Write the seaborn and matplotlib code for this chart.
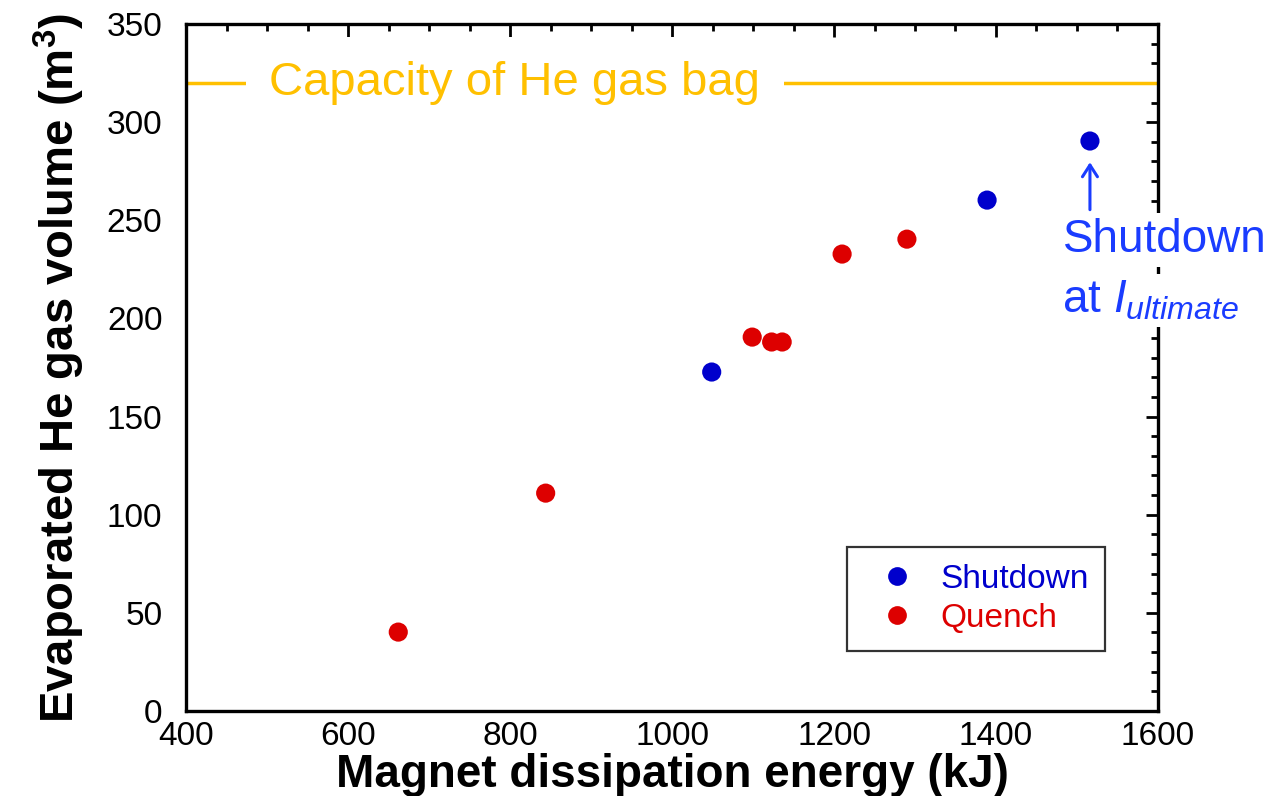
import matplotlib
matplotlib.use("Agg")
import matplotlib.pyplot as plt
from matplotlib.ticker import MultipleLocator
from matplotlib.lines import Line2D
import seaborn as sns
import pandas as pd

# Measured data: magnet dissipation energy (kJ) vs evaporated He gas volume (m^3)
shutdown_energy = [1049, 1389, 1516]
shutdown_volume = [172.7, 260.3, 290.4]
quench_energy = [662, 844, 1099, 1123, 1136, 1210, 1290]
quench_volume = [40.2, 111.0, 190.5, 188.0, 188.0, 232.8, 240.4]
bag_capacity = 320

series_names = ["Shutdown", "Quench"]
series_colors = {"Shutdown": "#0000cc", "Quench": "#dd0000"}
gold = "#ffc000"
note_blue = "#1a3cff"

df = pd.DataFrame({
    "energy": shutdown_energy + quench_energy,
    "volume": shutdown_volume + quench_volume,
    "kind": ["Shutdown"] * len(shutdown_energy) + ["Quench"] * len(quench_energy),
})

sns.set_theme(style="white")
plt.rcParams["font.family"] = ["Liberation Sans", "DejaVu Sans"]
plt.rcParams["mathtext.fontset"] = "custom"
plt.rcParams["mathtext.rm"] = "Liberation Sans"
plt.rcParams["mathtext.it"] = "Liberation Sans:italic"
plt.rcParams["mathtext.bf"] = "Liberation Sans:bold"
plt.rcParams["text.color"] = "black"
plt.rcParams["axes.labelcolor"] = "black"

fig = plt.figure(figsize=(12.77, 7.96), dpi=100)
ax = fig.add_axes([0.1457, 0.1068, 0.7611, 0.8630])

sns.scatterplot(data=df, x="energy", y="volume", hue="kind", hue_order=series_names,
                palette=series_colors, s=190, linewidth=0, legend=False, ax=ax, zorder=3)

ax.set_xlim(400, 1600)
ax.set_ylim(0, 350)
ax.xaxis.set_major_locator(MultipleLocator(200))
ax.xaxis.set_minor_locator(MultipleLocator(50))
ax.yaxis.set_major_locator(MultipleLocator(50))
ax.yaxis.set_minor_locator(MultipleLocator(10))
ax.tick_params(which="both", direction="in", top=True, right=True, width=2.0,
               colors="black", labelcolor="black")
ax.tick_params(which="major", length=9, labelsize=24)
ax.tick_params(which="minor", length=5)
ax.tick_params(axis="x", which="major", pad=7)
ax.tick_params(axis="y", which="major", pad=17)
for sp in ax.spines.values():
    sp.set_linewidth(2.4)
    sp.set_color("black")

ax.set_xlabel("Magnet dissipation energy (kJ)", fontsize=33, fontweight="bold",
              color="black", labelpad=1)
ax.set_ylabel(r"Evaporated He gas volume (m$^\mathbf{3}$)", fontsize=34, fontweight="bold",
              color="black", labelpad=14)

# Gas bag capacity line with its label breaking the line
ax.axhline(bag_capacity, color=gold, linewidth=2.5, zorder=2)
ax.text(806, bag_capacity, "Capacity of He gas bag", color=gold, fontsize=34,
        ha="center", va="center", zorder=3,
        bbox=dict(facecolor="white", edgecolor="none", boxstyle="square,pad=0.5"))

# Note for the highest shutdown point
ax.annotate("", xy=(1516, 281), xytext=(1516, 254),
            arrowprops=dict(arrowstyle="->,head_length=0.7,head_width=0.45",
                            color=note_blue, lw=2.2))
ax.text(1608, 240, "Shutdown", color=note_blue, fontsize=33, ha="center", va="center",
        clip_on=False, zorder=6,
        bbox=dict(facecolor="white", edgecolor="none", boxstyle="square,pad=0.1"))
ax.text(1481, 209, r"at $I_{ultimate}$", color=note_blue, fontsize=33, ha="left", va="center",
        clip_on=False, zorder=6,
        bbox=dict(facecolor="white", edgecolor="none", boxstyle="square,pad=0.1"))

handles = [Line2D([0], [0], marker="o", linestyle="none", markersize=13.5,
                  markerfacecolor=series_colors[n], markeredgewidth=0) for n in series_names]
leg = ax.legend(handles, series_names, loc="upper right", bbox_to_anchor=(0.946, 0.238),
                fontsize=24, frameon=True, fancybox=False, edgecolor="black",
                labelcolor=[series_colors[n] for n in series_names],
                handletextpad=0.3, borderpad=0.5, labelspacing=0.24, borderaxespad=0,
                handlelength=2.0)
leg.get_frame().set_linewidth(1.6)
leg.set_zorder(5)

fig.savefig("out.png", dpi=100)
